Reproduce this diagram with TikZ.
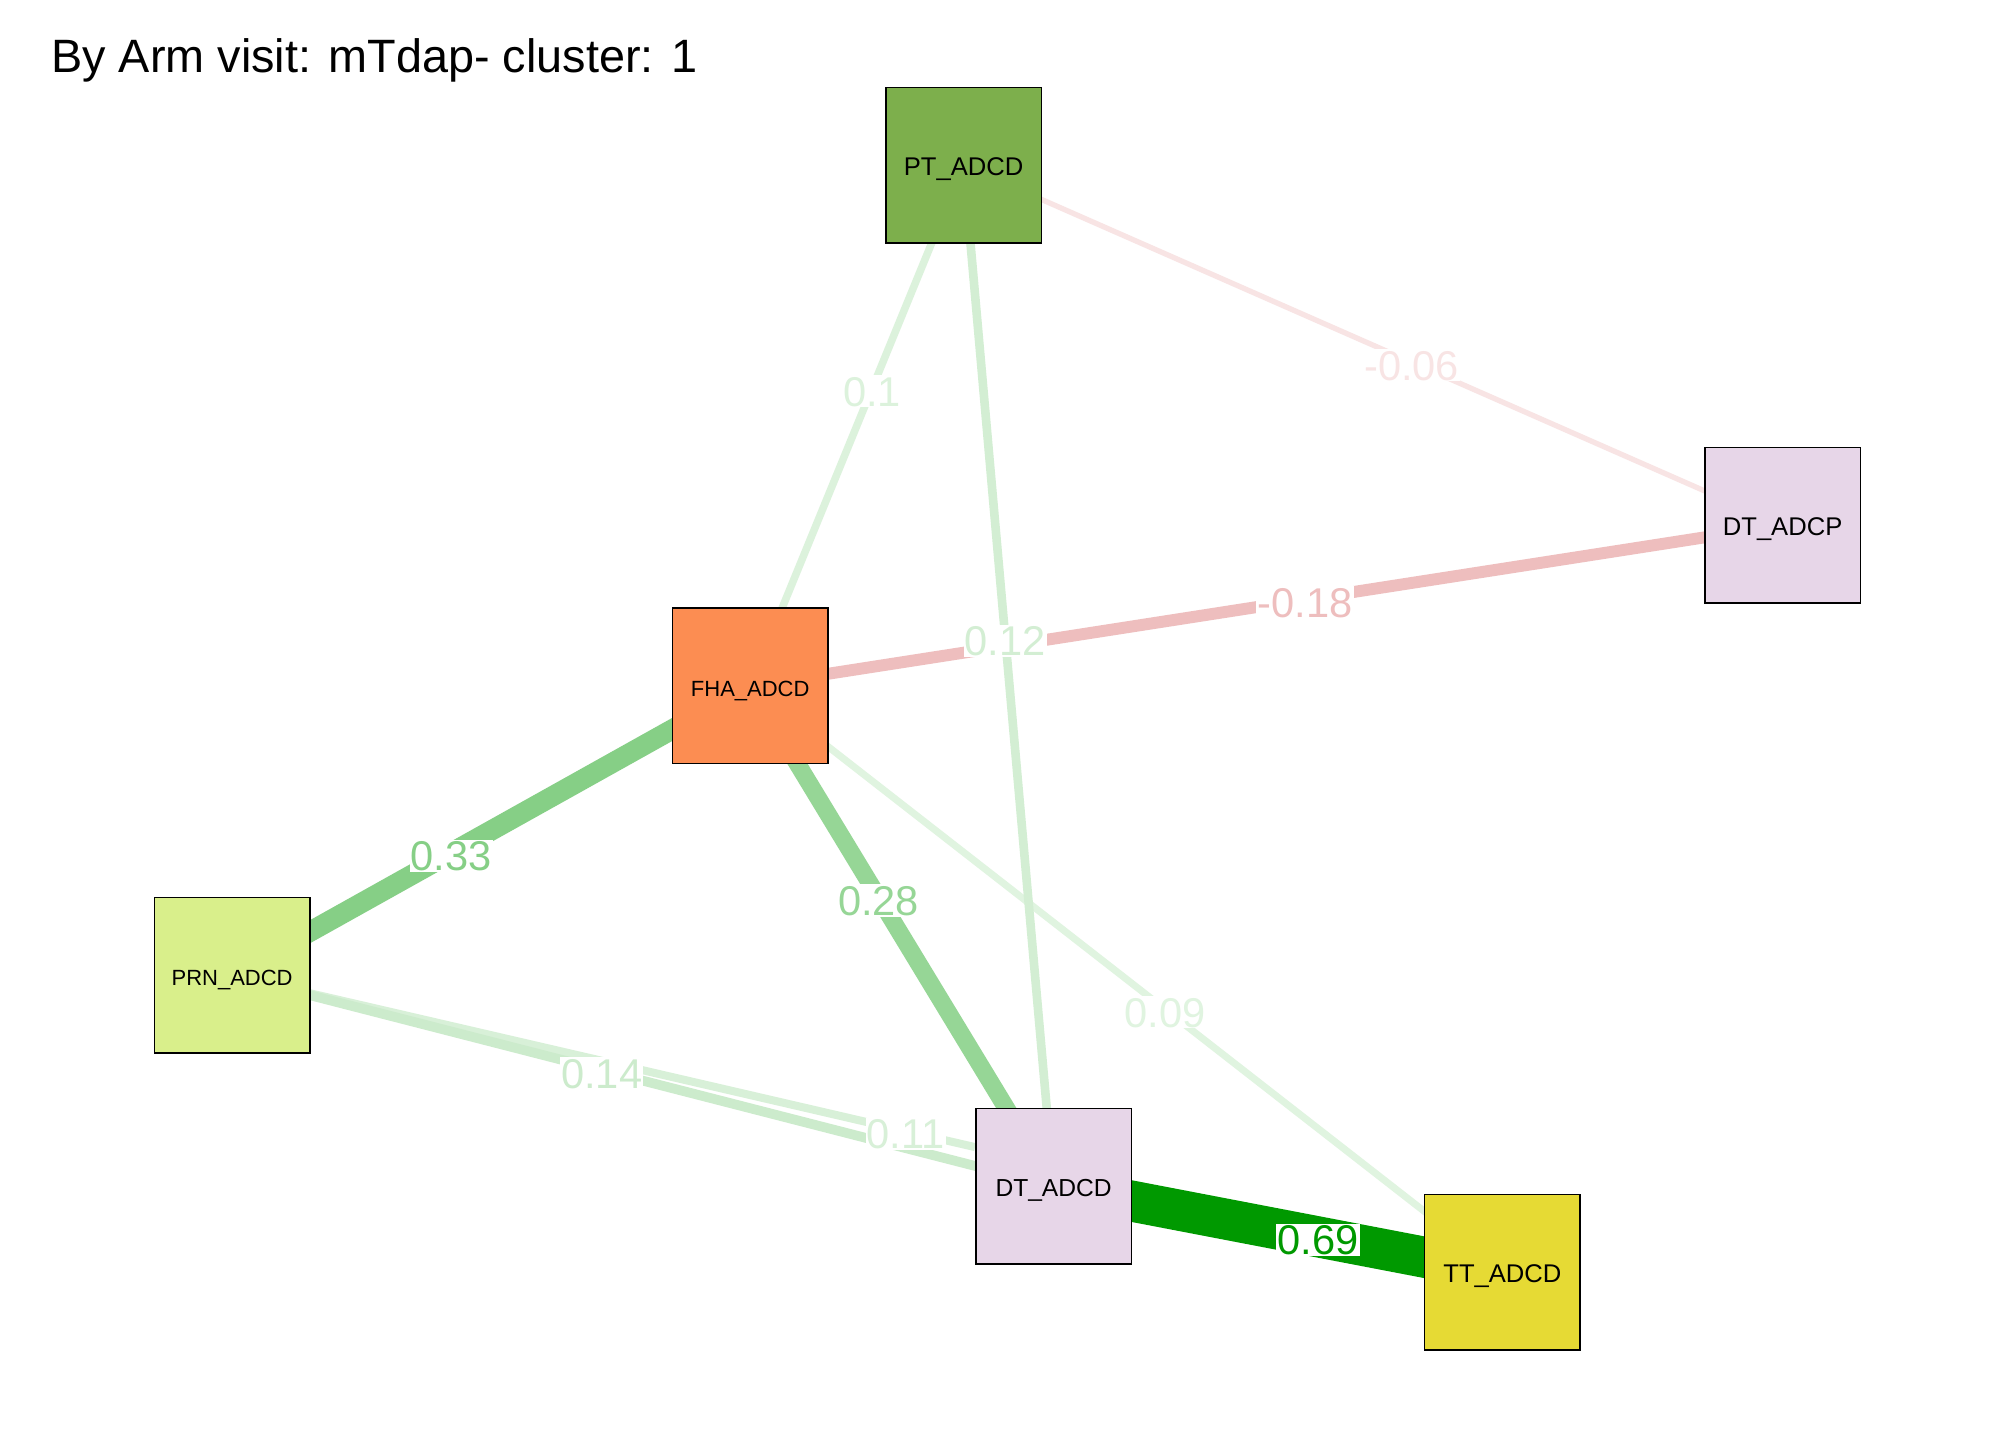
\documentclass[tikz,border=0pt]{standalone}
\usepackage{fontspec}
\setmainfont{Liberation Sans}
\usetikzlibrary{backgrounds}
\pgfdeclarelayer{canvas}
\pgfsetlayers{canvas,background,main}
\definecolor{cPT}{HTML}{7DAF4C}
\definecolor{cDT}{HTML}{E7D6E8}
\definecolor{cFHA}{HTML}{FC8D52}
\definecolor{cPRN}{HTML}{D9EF8B}
\definecolor{cTT}{HTML}{E6DA34}
\definecolor{eNsix}{HTML}{F8E4E4}
\definecolor{eNeighteen}{HTML}{EEBEBE}
\definecolor{eNine}{HTML}{E0F4E0}
\definecolor{eTen}{HTML}{DCF2DC}
\definecolor{eEleven}{HTML}{D8F0D8}
\definecolor{eTwelve}{HTML}{D3EED3}
\definecolor{eFourteen}{HTML}{CCEBCC}
\definecolor{eTwentyEight}{HTML}{96D696}
\definecolor{eThirtyThree}{HTML}{86CF86}
\definecolor{eSixtyNine}{HTML}{009900}
\begin{document}
\begin{tikzpicture}[x=0.5pt,y=-0.5pt,
  box/.style={draw=black,line width=0.75pt,minimum size=77.8pt,inner sep=0pt,text height=10.5pt,text depth=0pt},
  lbl/.style={fill=white,inner sep=0.6pt,font=\fontsize{20.8}{22}\selectfont,text height=14.9pt,text depth=0pt,yshift=-1.5pt},
  conn/.style={line cap=butt}]
\begin{pgfonlayer}{canvas}
\fill[white] (0,0) rectangle (2016,1440);
\end{pgfonlayer}
\useasboundingbox (0,0) rectangle (2016,1440);
\node[anchor=base west,inner sep=0pt,font=\fontsize{23.4}{28}\selectfont] (title) at (51,72) {By Arm visit: mTdap- cluster: 1};
\node[box,fill=cPT,font=\fontsize{12.8}{14}\selectfont] (pt) at (963.6,165.2) {PT\_ADCD};
\node[box,fill=cDT,font=\fontsize{12.8}{14}\selectfont] (dtp) at (1782.6,525.2) {DT\_ADCP};
\node[box,fill=cFHA,font=\fontsize{11}{13}\selectfont] (fha) at (750.2,685.9) {FHA\_ADCD};
\node[box,fill=cPRN,font=\fontsize{11}{13}\selectfont] (prn) at (232.1,975.2) {PRN\_ADCD};
\node[box,fill=cDT,font=\fontsize{12.3}{14}\selectfont] (dtd) at (1053.6,1186.1) {DT\_ADCD};
\node[box,fill=cTT,font=\fontsize{12.8}{14}\selectfont] (tt) at (1502.4,1272.2) {TT\_ADCD};
\coordinate (dtdin) at ([yshift=19.5pt]dtd.west);
\begin{scope}[on background layer]
\draw[conn,line width=2.65pt,eNsix] (pt.center) -- (dtp.center);
\draw[conn,line width=3.5pt,eNine] (fha.center) -- (tt.center);
\draw[conn,line width=3.75pt,eTen] (pt.center) -- (fha.center);
\draw[conn,line width=4pt,eEleven] (prn.center) -- (dtdin);
\draw[conn,line width=4.3pt,eTwelve] (pt.center) -- (dtd.center);
\draw[conn,line width=4.85pt,eFourteen] (prn.center) -- (dtd.center);
\draw[conn,line width=5.95pt,eNeighteen] (fha.center) -- (dtp.center);
\draw[conn,line width=8.7pt,eTwentyEight] (fha.center) -- (dtd.center);
\draw[conn,line width=10.1pt,eThirtyThree] (fha.center) -- (prn.center);
\draw[conn,line width=20.5pt,eSixtyNine] (dtd.center) -- (tt.center);
\end{scope}
\path (pt.center) -- (dtp.center) node[lbl,pos=0.547,text=eNsix] {-0.06};
\path (fha.center) -- (tt.center) node[lbl,pos=0.5513,text=eNine] {0.09};
\path (pt.center) -- (fha.center) node[lbl,pos=0.4285,text=eTen] {0.1};
\path (prn.center) -- (dtdin) node[lbl,pos=0.9067,text=eEleven] {0.11};
\path (pt.center) -- (dtd.center) node[lbl,pos=0.4628,text=eTwelve] {0.12};
\path (prn.center) -- (dtd.center) node[lbl,pos=0.4499,text=eFourteen] {0.14};
\path (fha.center) -- (dtp.center) node[lbl,pos=0.5374,text=eNeighteen] {-0.18};
\path (fha.center) -- (dtd.center) node[lbl,pos=0.4228,text=eTwentyEight] {0.28};
\path (fha.center) -- (prn.center) node[lbl,pos=0.5769,text=eThirtyThree] {0.33};
\path (dtd.center) -- (tt.center) node[lbl,pos=0.5889,text=eSixtyNine] {0.69};
\end{tikzpicture}
\end{document}
